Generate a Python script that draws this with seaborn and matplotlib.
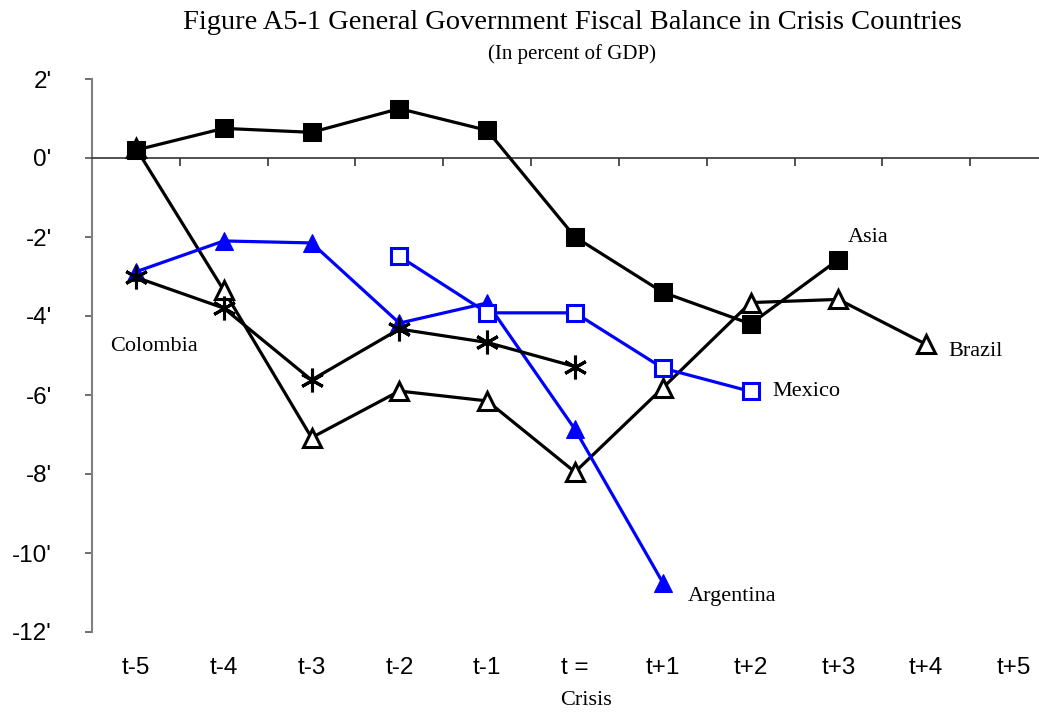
import matplotlib
matplotlib.use('Agg')
import matplotlib.pyplot as plt
import numpy as np
import pandas as pd
import seaborn as sns
from matplotlib.ticker import FixedLocator

# Data (percent of GDP)
periods = ['t-5', 't-4', 't-3', 't-2', 't-1', 't =', 't+1', 't+2', 't+3', 't+4', 't+5']
asia = [0.2, 0.75, 0.65, 1.25, 0.7, -2.0, -3.4, -4.2, -2.57, np.nan, np.nan]
brazil = [0.25, -3.35, -7.08, -5.9, -6.15, -7.95, -5.82, -3.66, -3.58, -4.72, np.nan]
colombia = [-3.02, -3.8, -5.62, -4.33, -4.67, -5.28, np.nan, np.nan, np.nan, np.nan, np.nan]
argentina = [-2.88, -2.1, -2.15, -4.18, -3.67, -6.87, -10.75, np.nan, np.nan, np.nan, np.nan]
mexico = [np.nan, np.nan, np.nan, -2.49, -3.92, -3.92, -5.32, -5.91, np.nan, np.nan, np.nan]
yticks = [2, 0, -2, -4, -6, -8, -10, -12]

sns.set_style('white')
plt.rcParams['font.family'] = ['Liberation Sans', 'DejaVu Sans']
plt.rcParams['text.color'] = 'black'
plt.rcParams['xtick.labelcolor'] = 'black'
plt.rcParams['ytick.labelcolor'] = 'black'
serif = ['Liberation Serif', 'DejaVu Serif']

df = pd.DataFrame({'pos': np.arange(len(periods)), 'Asia': asia, 'Brazil': brazil,
                   'Colombia': colombia, 'Argentina': argentina, 'Mexico': mexico})

fig = plt.figure(figsize=(10.39, 7.14), dpi=100)
ax = fig.add_axes([92 / 1039, 1 - 632 / 714, (1058 - 92) / 1039, (632 - 79) / 714])

blue = '#0000ff'
lw = 2.3
# Series
sns.lineplot(data=df, x='pos', y='Brazil', ax=ax, color='black', lw=lw, marker='^',
             markersize=13, markerfacecolor='white', markeredgecolor='black', markeredgewidth=2.2, zorder=3)
sns.lineplot(data=df, x='pos', y='Colombia', ax=ax, color='black', lw=lw, marker=(6, 2, 0),
             markersize=17, markeredgecolor='black', markeredgewidth=2.2, zorder=5)
sns.lineplot(data=df, x='pos', y='Argentina', ax=ax, color=blue, lw=lw, marker='^',
             markersize=13, markeredgecolor=blue, zorder=3)
sns.lineplot(data=df, x='pos', y='Mexico', ax=ax, color=blue, lw=lw, marker='s',
             markersize=11, markerfacecolor='white', markeredgecolor=blue, markeredgewidth=2.2, zorder=4)
sns.lineplot(data=df, x='pos', y='Asia', ax=ax, color='black', lw=lw, marker='s',
             markersize=13, markeredgecolor='black', zorder=4)

# Axes styling
ax.set_xlim(-0.5, len(periods) - 0.5)
ax.set_ylim(-12, 2)
ax.set_xlabel('')
ax.set_ylabel('')
for s in ['top', 'right']:
    ax.spines[s].set_visible(False)
ax.spines['left'].set_color('#808080')
ax.spines['left'].set_linewidth(1.5)
ax.spines['bottom'].set_position(('data', 0))
ax.spines['bottom'].set_color('#333333')
ax.spines['bottom'].set_linewidth(1.2)

ax.set_yticks(yticks, labels=[f"{v}'" for v in yticks])
ax.tick_params(axis='y', direction='out', length=5, width=1.2, color='#555555',
               pad=24, labelsize=17.5, left=True)
ax.set_xticks(range(len(periods)))
ax.xaxis.set_minor_locator(FixedLocator(np.arange(-0.5, len(periods), 1)))
ax.tick_params(axis='x', which='major', length=0, labelbottom=False)
ax.tick_params(axis='x', which='minor', direction='out', length=6, width=1.2,
               color='#333333', bottom=True)

sec = ax.secondary_xaxis('bottom')
sec.set_xticks(range(len(periods)), labels=periods)
sec.spines['bottom'].set_visible(False)
sec.tick_params(length=0, pad=18, labelsize=17.5)

# Titles and labels
ax.text(0.497, 1.103, 'Figure A5-1 General Government Fiscal Balance in Crisis Countries',
        transform=ax.transAxes, ha='center', va='center', fontsize=20.5, family=serif)
ax.text(0.497, 1.045, '(In percent of GDP)', transform=ax.transAxes, ha='center',
        va='center', fontsize=15, family=serif)
ax.text(0.511, -0.123, 'Crisis', transform=ax.transAxes, ha='center', va='center',
        fontsize=16, family=serif)

# Series labels
ann = dict(textcoords='offset points', va='center', fontsize=16, family=serif)
ax.annotate('Asia', xy=(8, asia[8]), xytext=(7, 16), ha='left', **ann)
ax.annotate('Brazil', xy=(9, brazil[9]), xytext=(16, -5), ha='left', **ann)
ax.annotate('Mexico', xy=(7, mexico[7]), xytext=(16, 0), ha='left', **ann)
ax.annotate('Argentina', xy=(6, argentina[6]), xytext=(18, -10), ha='left', **ann)
ax.annotate('Colombia', xy=(0, colombia[0]), xytext=(13, -50), ha='center', **ann)

fig.savefig('out.png', dpi=100)
